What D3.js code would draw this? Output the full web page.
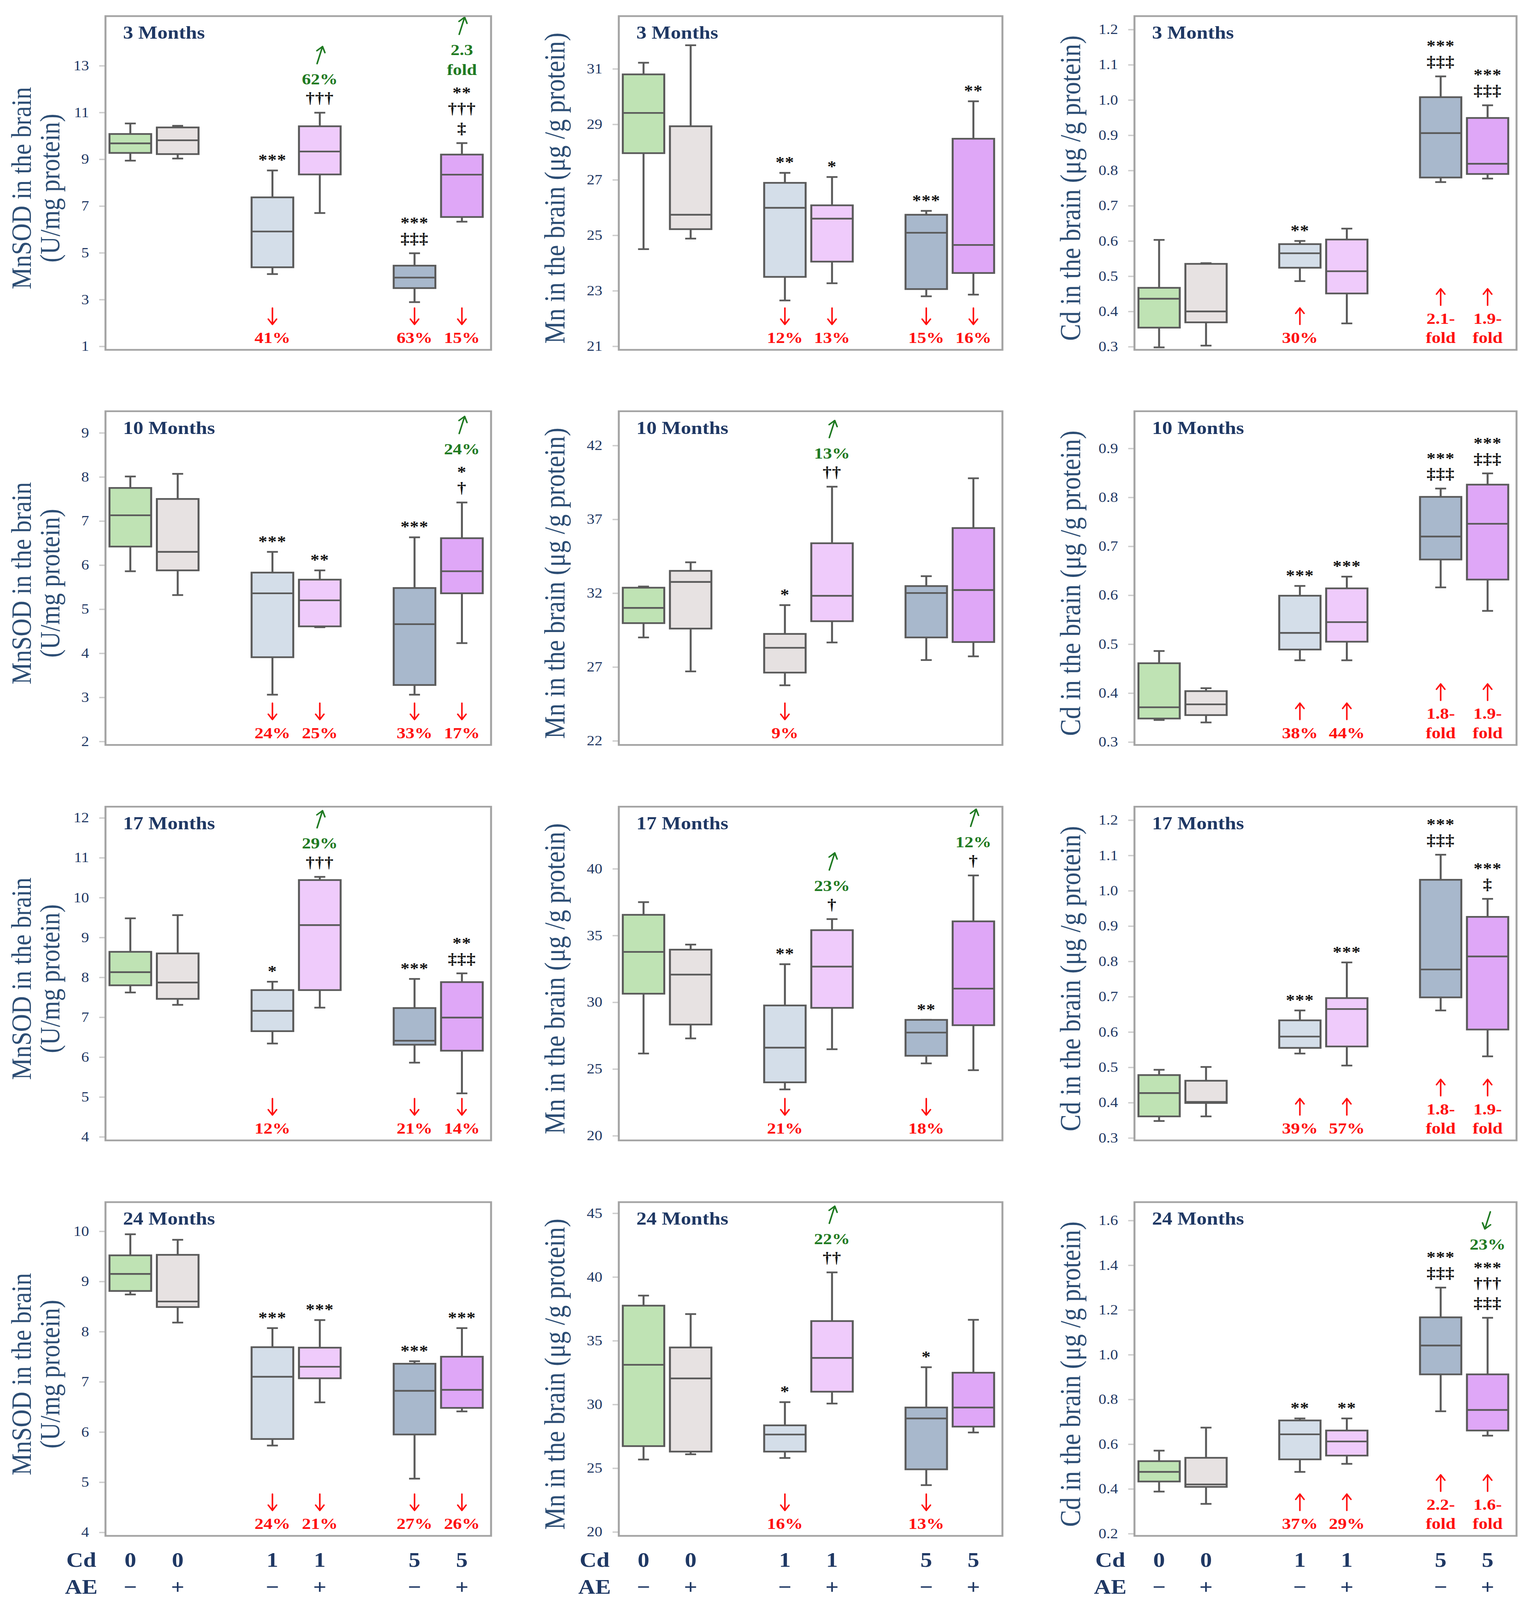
<!DOCTYPE html>
<html>
<head>
<meta charset="utf-8">
<script src="https://cdn.jsdelivr.net/npm/d3@7"></script>
<style>
  html, body { margin: 0; padding: 0; background: #fff; overflow: hidden; }
  #chart { width: 100vw; height: 100vh; }
  svg { display: block; width: 100%; height: 100%; }
  text { font-family: "Liberation Serif", "DejaVu Serif", serif; }
</style>
</head>
<body>
<div id="chart"></div>
<script>
const width = 3896
const height = 4665

// groups: Cd dose (mg/kg) and AE (-/+)
const groupKeys = ["0-", "0+", "1-", "1+", "5-", "5+"]
const cdDose = ["0", "0", "1", "1", "5", "5"]
const aeSign = ["\u2212", "+", "\u2212", "+", "\u2212", "+"]
const ages = ["3 Months", "10 Months", "17 Months", "24 Months"]

// box stats per group: [low whisker, q1, median, q3, high whisker]
const mnsod3 = [[8.94, 9.27, 9.68, 10.08, 10.53], [9.03, 9.22, 9.81, 10.36, 10.43], [4.09, 4.38, 5.91, 7.37, 8.52],
  [6.70, 8.35, 9.33, 10.41, 10.99], [2.89, 3.49, 3.94, 4.45, 4.98], [6.33, 6.53, 8.34, 9.20, 9.69]]
const mnsod10 = [[5.86, 6.42, 7.13, 7.75, 8.01], [5.32, 5.88, 6.30, 7.50, 8.07], [3.06, 3.91, 5.36, 5.83, 6.30],
  [4.59, 4.61, 5.20, 5.67, 5.88], [3.06, 3.28, 4.66, 5.48, 6.63], [4.23, 5.36, 5.86, 6.61, 7.42]]
const mnsod17 = [[7.62, 7.80, 8.13, 8.64, 9.48], [7.31, 7.46, 7.87, 8.60, 9.56], [6.34, 6.65, 7.16, 7.68, 7.89],
  [7.24, 7.68, 9.31, 10.44, 10.52], [5.86, 6.31, 6.41, 7.23, 7.96], [5.09, 6.16, 6.99, 7.88, 8.10]]
const mnsod24 = [[8.74, 8.81, 9.15, 9.52, 9.94], [8.18, 8.49, 8.60, 9.53, 9.83], [5.73, 5.86, 7.10, 7.69, 8.07],
  [6.59, 7.07, 7.30, 7.68, 8.23], [5.07, 5.95, 6.82, 7.36, 7.41], [6.41, 6.48, 6.84, 7.50, 8.07]]

const mn3 = [[24.50, 27.96, 29.41, 30.80, 31.22], [24.88, 25.22, 25.74, 28.93, 31.85], [22.65, 23.50, 25.99, 26.89, 27.25],
  [23.27, 24.05, 25.60, 26.08, 27.10], [22.80, 23.06, 25.09, 25.74, 25.88], [22.86, 23.64, 24.65, 28.48, 29.83]]
const mn10 = [[29.00, 29.97, 31.00, 32.37, 32.45], [26.70, 29.60, 32.76, 33.51, 34.09], [25.76, 26.62, 28.30, 29.24, 31.19],
  [28.66, 30.10, 31.82, 35.38, 39.21], [27.47, 29.00, 32.01, 32.48, 33.15], [27.72, 28.69, 32.21, 36.41, 39.78]]
const mn17 = [[26.16, 30.64, 33.77, 36.55, 37.50], [27.29, 28.33, 32.07, 33.94, 34.32], [23.47, 24.00, 26.60, 29.76, 32.85],
  [26.48, 29.58, 32.67, 35.40, 36.23], [25.42, 25.99, 27.73, 28.68, 28.68], [24.91, 28.28, 31.02, 36.06, 39.50]]
const mn24 = [[25.68, 26.73, 33.11, 37.75, 38.54], [26.09, 26.30, 32.04, 34.47, 37.09], [25.80, 26.30, 27.64, 28.36, 30.18],
  [30.07, 31.00, 33.65, 36.54, 40.36], [23.67, 24.91, 28.90, 29.76, 32.92], [27.80, 28.26, 29.76, 32.49, 36.64]]

const cd3 = [[0.298, 0.354, 0.436, 0.467, 0.603], [0.303, 0.369, 0.400, 0.535, 0.537], [0.486, 0.524, 0.565, 0.591, 0.600],
  [0.366, 0.451, 0.514, 0.604, 0.635], [0.767, 0.780, 0.906, 1.008, 1.067], [0.777, 0.790, 0.819, 0.949, 0.985]]
const cd10 = [[0.345, 0.348, 0.371, 0.461, 0.486], [0.340, 0.355, 0.377, 0.404, 0.410], [0.467, 0.489, 0.523, 0.599, 0.619],
  [0.467, 0.505, 0.545, 0.614, 0.638], [0.616, 0.673, 0.720, 0.801, 0.818], [0.568, 0.632, 0.746, 0.826, 0.849]]
const cd17 = [[0.348, 0.361, 0.427, 0.478, 0.493], [0.361, 0.399, 0.402, 0.462, 0.501], [0.539, 0.555, 0.587, 0.633, 0.661],
  [0.505, 0.559, 0.665, 0.696, 0.797], [0.661, 0.698, 0.777, 1.031, 1.102], [0.531, 0.607, 0.814, 0.926, 0.977]]
const cd24 = [[0.388, 0.433, 0.476, 0.524, 0.571], [0.333, 0.409, 0.420, 0.539, 0.674], [0.476, 0.532, 0.644, 0.706, 0.715],
  [0.512, 0.549, 0.612, 0.661, 0.715], [0.747, 0.912, 1.041, 1.167, 1.300], [0.638, 0.661, 0.753, 0.912, 1.165]]

// y extents and tick values
const mnsodDomains = [[0.85, 15.12], [1.92, 9.49], [3.91, 12.28], [3.93, 10.58]]
const mnDomains = [[20.87, 32.9], [21.72, 44.32], [19.65, 44.65], [19.69, 45.87]]
const cdDomains = [[0.291, 1.238], [0.294, 0.976], [0.293, 1.238], [0.19, 1.682]]
const mnsodTicks = [[1, 3, 5, 7, 9, 11, 13], [2, 3, 4, 5, 6, 7, 8, 9], [4, 5, 6, 7, 8, 9, 10, 11, 12], [4, 5, 6, 7, 8, 9, 10]]
const mnTicks = [[21, 23, 25, 27, 29, 31], [22, 27, 32, 37, 42], [20, 25, 30, 35, 40], [20, 25, 30, 35, 40, 45]]
const cdTicks = [[0.3, 0.4, 0.5, 0.6, 0.7, 0.8, 0.9, 1.0, 1.1, 1.2], [0.3, 0.4, 0.5, 0.6, 0.7, 0.8, 0.9],
  [0.3, 0.4, 0.5, 0.6, 0.7, 0.8, 0.9, 1.0, 1.1, 1.2], [0.2, 0.4, 0.6, 0.8, 1.0, 1.2, 1.4, 1.6]]

// significance marks above each box (top to bottom)
const mnsodSig = [
  [[], [], ["***"], ["†††"], ["***", "‡‡‡"], ["**", "†††", "‡"]],
  [[], [], ["***"], ["**"], ["***"], ["*", "†"]],
  [[], [], ["*"], ["†††"], ["***"], ["**", "‡‡‡"]],
  [[], [], ["***"], ["***"], ["***"], ["***"]]]
const mnSig = [
  [[], [], ["**"], ["*"], ["***"], ["**"]],
  [[], [], ["*"], ["††"], [], []],
  [[], [], ["**"], ["†"], ["**"], ["†"]],
  [[], [], ["*"], ["††"], ["*"], []]]
const cdSig = [
  [[], [], ["**"], [], ["***", "‡‡‡"], ["***", "‡‡‡"]],
  [[], [], ["***"], ["***"], ["***", "‡‡‡"], ["***", "‡‡‡"]],
  [[], [], ["***"], ["***"], ["***", "‡‡‡"], ["***", "‡"]],
  [[], [], ["**"], ["**"], ["***", "‡‡‡"], ["***", "†††", "‡‡‡"]]]

// green change vs. Cd alone
const mnsodGreen = [
  [null, null, null, ["62%"], null, ["2.3", "fold"]],
  [null, null, null, null, null, ["24%"]],
  [null, null, null, ["29%"], null, null],
  [null, null, null, null, null, null]]
const mnGreen = [
  [null, null, null, null, null, null],
  [null, null, null, ["13%"], null, null],
  [null, null, null, ["23%"], null, ["12%"]],
  [null, null, null, ["22%"], null, null]]
const cdGreen = [
  [null, null, null, null, null, null],
  [null, null, null, null, null, null],
  [null, null, null, null, null, null],
  [null, null, null, null, null, ["23%"]]]
const cdGreenDir = [[], [], [], [0, 0, 0, 0, 0, 1]]

// red change vs. control
const mnsodRed = [
  [null, null, ["41%"], null, ["63%"], ["15%"]],
  [null, null, ["24%"], ["25%"], ["33%"], ["17%"]],
  [null, null, ["12%"], null, ["21%"], ["14%"]],
  [null, null, ["24%"], ["21%"], ["27%"], ["26%"]]]
const mnRed = [
  [null, null, ["12%"], ["13%"], ["15%"], ["16%"]],
  [null, null, ["9%"], null, null, null],
  [null, null, ["21%"], null, ["18%"], null],
  [null, null, ["16%"], null, ["13%"], null]]
const cdRed = [
  [null, null, ["30%"], null, ["2.1-", "fold"], ["1.9-", "fold"]],
  [null, null, ["38%"], ["44%"], ["1.8-", "fold"], ["1.9-", "fold"]],
  [null, null, ["39%"], ["57%"], ["1.8-", "fold"], ["1.9-", "fold"]],
  [null, null, ["37%"], ["29%"], ["2.2-", "fold"], ["1.6-", "fold"]]]

// styles
const boxFills = ["#bfe3b4", "#e7e2e2", "#d4dee9", "#efcbfb", "#a8b8cc", "#dfa7f7"]
const mn10Fills = ["#bfe3b4", "#e7e2e2", "#e6e1e1", "#efcbfb", "#a8b8cc", "#dfa7f7"]
const navy = "#1f3864"
const green = "#1f7a22"
const red = "#ff1010"
const boxStroke = "#5a5a5a"

const colX = [270, 1584, 2904]
const colW = [987, 982, 978]
const rowY = [47, 1199, 2352, 3505]
const panelH = 973

const columns = [
  { title: ["MnSOD in the brain", "(U/mg protein)"], stats: [mnsod3, mnsod10, mnsod17, mnsod24], domains: mnsodDomains,
    ticks: mnsodTicks, sig: mnsodSig, green: mnsodGreen, red: mnsodRed, redDir: 1, fmt: d3.format("d"),
    fills: [boxFills, boxFills, boxFills, boxFills] },
  { title: ["Mn in the brain (\u03bcg /g protein)"], stats: [mn3, mn10, mn17, mn24], domains: mnDomains,
    ticks: mnTicks, sig: mnSig, green: mnGreen, red: mnRed, redDir: 1, fmt: d3.format("d"),
    fills: [boxFills, mn10Fills, boxFills, boxFills] },
  { title: ["Cd in the brain (\u03bcg /g protein)"], stats: [cd3, cd10, cd17, cd24], domains: cdDomains,
    ticks: cdTicks, sig: cdSig, green: cdGreen, red: cdRed, redDir: -1, fmt: d3.format(".1f"),
    fills: [boxFills, boxFills, boxFills, boxFills] }
]

// the figure is laid out on a 3896 x 4665 grid and stretched to fill the window
const svg = d3.select("div#chart").append("svg")
  .attr("viewBox", `0 0 ${width} ${height}`)
  .attr("preserveAspectRatio", "none")
svg.append("rect").attr("width", width).attr("height", height).attr("fill", "#fff")

// arrow drawn as a stroke with an open head; dir -1 = up, 1 = down; slant for the italic green ones
function arrow(g, cx, cy, len, dir, color, slant) {
  const dx = slant * len / 2
  const bot = [cx - dx, cy + len / 2], top = [cx + dx, cy - len / 2]
  const tip = dir < 0 ? top : bot, tail = dir < 0 ? bot : top
  const ang = Math.atan2(tip[1] - tail[1], tip[0] - tail[0])
  const h = 19, sp = 0.6
  const p1 = [tip[0] - h * Math.cos(ang - sp), tip[1] - h * Math.sin(ang - sp)]
  const p2 = [tip[0] - h * Math.cos(ang + sp), tip[1] - h * Math.sin(ang + sp)]
  g.append("path")
    .attr("d", `M${tail}L${tip}M${p1}L${tip}L${p2}`)
    .attr("fill", "none").attr("stroke", color).attr("stroke-width", 4)
    .attr("stroke-linecap", "round").attr("stroke-linejoin", "round")
}

// baseline offset so that the glyph's visual centre sits on the requested y
const centreShift = s => s.includes("*") ? 0.52 : (/[†‡]/.test(s) ? 0.27 : 0.34)

const annoSize = 46

columns.forEach((col, ci) => {
  const x0 = colX[ci], w = colW[ci]
  const x = d3.scalePoint()
    .domain([groupKeys[0], groupKeys[1], "gapA", groupKeys[2], groupKeys[3], "gapB", groupKeys[4], groupKeys[5]])
    .range([x0 + 3, x0 + w - 14]).padding(0.5)
  const boxW = x.step() * 0.88
  const capW = 28

  ages.forEach((age, ri) => {
    const y0 = rowY[ri]
    const y = d3.scaleLinear().domain(col.domains[ri]).range([y0 + panelH, y0])
    const g = svg.append("g").attr("class", "panel")

    // axis
    const yAxis = d3.axisLeft(y).tickValues(col.ticks[ri]).tickFormat(col.fmt).tickSize(16).tickPadding(26)
    const ag = g.append("g").attr("transform", `translate(${x0}, 0)`).call(yAxis)
    ag.select(".domain").remove()
    ag.selectAll(".tick line").attr("stroke", "#cdcdcd").attr("stroke-width", 4)
    ag.selectAll(".tick text").attr("fill", navy).attr("font-size", 40)
      .attr("font-family", "'Liberation Serif', serif")

    // y title
    const tcx = ci === 0 ? [x0 - 215, x0 - 142] : [x0 - 164]
    col.title.forEach((t, li) => {
      g.append("text")
        .attr("transform", `translate(${tcx[li]}, ${y0 + panelH / 2 + 15}) rotate(-90)`)
        .attr("text-anchor", "middle").attr("dominant-baseline", "central")
        .attr("font-size", ci === 0 ? 72 : 74).attr("fill", "#2c4d74")
        .text(t)
    })

    const stats = col.stats[ri]
    const fills = col.fills[ri]

    // boxes
    stats.forEach((s, gi) => {
      const cx = x(groupKeys[gi])
      const [lo, q1, med, q3, hi] = s
      const bg = g.append("g")
      bg.append("line").attr("x1", cx).attr("x2", cx).attr("y1", y(hi)).attr("y2", y(q3))
        .attr("stroke", boxStroke).attr("stroke-width", 5)
      bg.append("line").attr("x1", cx).attr("x2", cx).attr("y1", y(q1)).attr("y2", y(lo))
        .attr("stroke", boxStroke).attr("stroke-width", 5)
      ;[hi, lo].forEach(v => {
        bg.append("line").attr("x1", cx - capW / 2).attr("x2", cx + capW / 2).attr("y1", y(v)).attr("y2", y(v))
          .attr("stroke", boxStroke).attr("stroke-width", 5)
      })
      bg.append("rect").attr("x", cx - boxW / 2).attr("y", y(q3)).attr("width", boxW)
        .attr("height", Math.max(2, y(q1) - y(q3)))
        .attr("fill", fills[gi]).attr("stroke", boxStroke).attr("stroke-width", 5)
      bg.append("line").attr("x1", cx - boxW / 2).attr("x2", cx + boxW / 2).attr("y1", y(med)).attr("y2", y(med))
        .attr("stroke", boxStroke).attr("stroke-width", 5)

      // marks above the box
      const sig = col.sig[ri][gi].slice().reverse()
      const grn = (col.green[ri][gi] || []).slice().reverse()
      let c = y(hi) - 40
      let last = null
      sig.forEach(t => {
        g.append("text").attr("x", cx).attr("y", c + centreShift(t) * annoSize)
          .attr("text-anchor", "middle").attr("font-size", annoSize).attr("font-weight", "bold")
          .attr("fill", "#111").attr("letter-spacing", 1).text(t)
        last = c
        c -= 58
      })
      grn.forEach(t => {
        g.append("text").attr("x", cx).attr("y", c + centreShift(t) * annoSize)
          .attr("text-anchor", "middle").attr("font-size", annoSize).attr("font-weight", "bold")
          .attr("fill", green).text(t)
        last = c
        c -= 58
      })
      if (grn.length) {
        const dir = (ci === 2 && cdGreenDir[ri][gi]) ? 1 : -1
        arrow(g, cx, last - 70, 50, dir, green, 0.28)
      }

      // change vs control at the bottom
      const rd = col.red[ri][gi]
      if (rd) {
        const yb = y0 + panelH
        const lines = rd.slice().reverse()
        let b = yb - 20
        let topLine = b
        lines.forEach(t => {
          g.append("text").attr("x", cx).attr("y", b)
            .attr("text-anchor", "middle").attr("font-size", annoSize).attr("font-weight", "bold")
            .attr("fill", red).text(t)
          topLine = b
          b -= 56
        })
        arrow(g, cx, topLine - 32 - 22 - 24, 48, col.redDir, red, 0)
      }
    })

    // frame and age label
    g.append("rect").attr("x", x0).attr("y", y0).attr("width", w).attr("height", panelH)
      .attr("fill", "none").attr("stroke", "#a3a3a3").attr("stroke-width", 5)
    g.append("text").attr("x", x0 + 45).attr("y", y0 + 66)
      .attr("font-size", 52).attr("font-weight", "bold").attr("fill", navy).text(age)
  })

  // group labels under the last row
  const lab = svg.append("g").attr("font-weight", "bold").attr("fill", navy).attr("font-size", 60)
  lab.append("text").attr("x", x0 - 62).attr("y", 4568).attr("text-anchor", "middle").text("Cd")
  lab.append("text").attr("x", x0 - 62).attr("y", 4647).attr("text-anchor", "middle").text("AE")
  groupKeys.forEach((k, gi) => {
    lab.append("text").attr("x", x(k)).attr("y", 4568).attr("text-anchor", "middle").text(cdDose[gi])
    lab.append("text").attr("x", x(k)).attr("y", 4647).attr("text-anchor", "middle").text(aeSign[gi])
  })
})
</script>
</body>
</html>
